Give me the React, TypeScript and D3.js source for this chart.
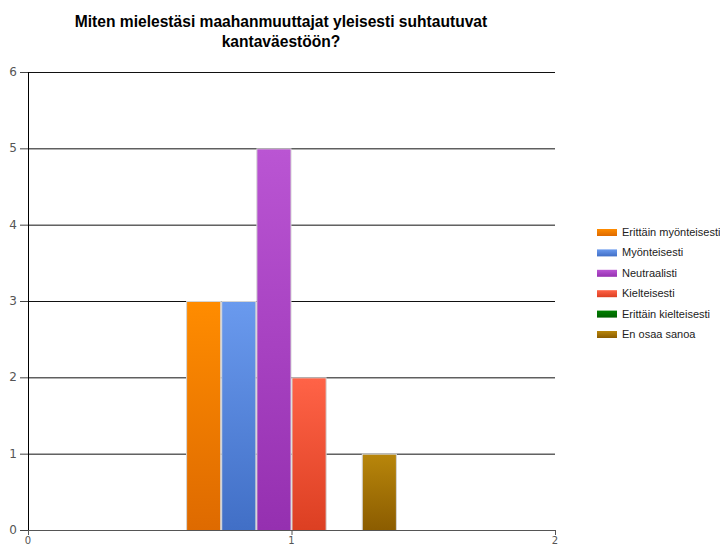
import React, { useRef, useEffect } from 'react';
import * as d3 from 'd3';

const titleLines = ['Miten mielestäsi maahanmuuttajat yleisesti suhtautuvat', 'kantaväestöön?'];
const seriesNames = ['Erittäin myönteisesti', 'Myönteisesti', 'Neutraalisti', 'Kielteisesti', 'Erittäin kielteisesti', 'En osaa sanoa'];
const seriesValues = [3, 3, 5, 2, 0, 1];
const categoryPos = 1;
const yTicks = [0, 1, 2, 3, 4, 5, 6];
const xTicks = [0, 1, 2];
const topColors = ['#ff8c00', '#6a9aee', '#ba55d3', '#ff6347', '#008000', '#b8860b'];
const bottomColors = ['#de6a00', '#416fc6', '#9530b0', '#dc3f22', '#006000', '#8b5c00'];

const App: React.FC = () => {
  const svgRef = useRef<SVGSVGElement>(null);

  useEffect(() => {
    if (!svgRef.current) return;
    const svg = d3.select(svgRef.current);
    svg.selectAll('*').remove();

    const left = 28, right = 555, top = 72, bottom = 530;
    const x = d3.scaleLinear().domain([0, 2]).range([left, right]);
    const y = d3.scaleLinear().domain([0, 6]).range([bottom, top]);
    const band = d3.scaleBand<number>()
      .domain(d3.range(seriesNames.length))
      .range([x(categoryPos - 0.4), x(categoryPos + 0.4)]);

    const defs = svg.append('defs');
    topColors.forEach((c, i) => {
      const lg = defs.append('linearGradient')
        .attr('id', `grad${i}`)
        .attr('x1', 0).attr('y1', 0).attr('x2', 0).attr('y2', 1);
      lg.append('stop').attr('offset', '0%').attr('stop-color', c);
      lg.append('stop').attr('offset', '100%').attr('stop-color', bottomColors[i]);
    });

    // title
    svg.append('g')
      .selectAll('text')
      .data(titleLines)
      .enter().append('text')
      .attr('x', 281)
      .attr('y', (d, i) => 27 + i * 20)
      .attr('text-anchor', 'middle')
      .attr('font-family', 'Liberation Sans, Arial, sans-serif')
      .attr('font-weight', 'bold')
      .attr('font-size', 15.6)
      .attr('fill', '#000')
      .text(d => d);

    // gridlines
    svg.append('g')
      .selectAll('line')
      .data(yTicks.filter(t => t > 0))
      .enter().append('line')
      .attr('x1', left).attr('x2', right)
      .attr('y1', d => y(d) + 0.5).attr('y2', d => y(d) + 0.5)
      .attr('stroke', '#111');

    // bars
    svg.append('g')
      .selectAll('rect')
      .data(seriesValues.map((v, i) => ({ v, i })).filter(d => d.v > 0))
      .enter().append('rect')
      .attr('x', d => band(d.i)! + 0.5)
      .attr('y', d => y(d.v) + 0.5)
      .attr('width', band.bandwidth() - 1)
      .attr('height', d => y(0) - y(d.v))
      .attr('fill', d => `url(#grad${d.i})`)
      .attr('stroke', '#d4d4d4')
      .attr('stroke-width', 1);

    // y axis
    const yAxis = svg.append('g');
    yAxis.append('line')
      .attr('x1', left + 0.5).attr('x2', left + 0.5)
      .attr('y1', top).attr('y2', bottom + 4)
      .attr('stroke', '#000');
    yAxis.selectAll('line.tick')
      .data(yTicks)
      .enter().append('line')
      .attr('class', 'tick')
      .attr('x1', left - 8).attr('x2', left)
      .attr('y1', d => y(d) + 0.5).attr('y2', d => y(d) + 0.5)
      .attr('stroke', '#444');
    yAxis.selectAll('text')
      .data(yTicks)
      .enter().append('text')
      .attr('x', left - 11)
      .attr('y', d => y(d) + 4)
      .attr('text-anchor', 'end')
      .attr('font-family', 'DejaVu Sans, sans-serif')
      .attr('font-size', 12)
      .attr('fill', '#555')
      .text(d => d);

    // x axis
    const xAxis = svg.append('g');
    xAxis.append('line')
      .attr('x1', left).attr('x2', right)
      .attr('y1', bottom + 0.5).attr('y2', bottom + 0.5)
      .attr('stroke', '#555');
    xAxis.selectAll('line.tick')
      .data(xTicks)
      .enter().append('line')
      .attr('class', 'tick')
      .attr('x1', d => x(d) + 0.5).attr('x2', d => x(d) + 0.5)
      .attr('y1', bottom).attr('y2', bottom + 5)
      .attr('stroke', '#555');
    xAxis.selectAll('text')
      .data(xTicks)
      .enter().append('text')
      .attr('x', d => x(d))
      .attr('y', bottom + 14)
      .attr('text-anchor', 'middle')
      .attr('font-family', 'DejaVu Sans, sans-serif')
      .attr('font-size', 10)
      .attr('fill', '#555')
      .text(d => d);

    // legend
    const legend = svg.append('g');
    const items = legend.selectAll('g')
      .data(seriesNames)
      .enter().append('g')
      .attr('transform', (d, i) => `translate(597,${232 + i * 20.4})`);
    items.append('rect')
      .attr('x', 0).attr('y', -3)
      .attr('width', 20).attr('height', 7)
      .attr('fill', (d, i) => `url(#grad${i})`);
    items.append('text')
      .attr('x', 25)
      .attr('y', 4)
      .attr('font-family', 'Liberation Sans, Arial, sans-serif')
      .attr('font-size', 11)
      .attr('fill', '#222')
      .text(d => d);
  }, []);

  return <svg ref={svgRef} width={720} height={547} style={{ position: 'absolute', left: 0, top: 0 }}></svg>;
};

export default App;
